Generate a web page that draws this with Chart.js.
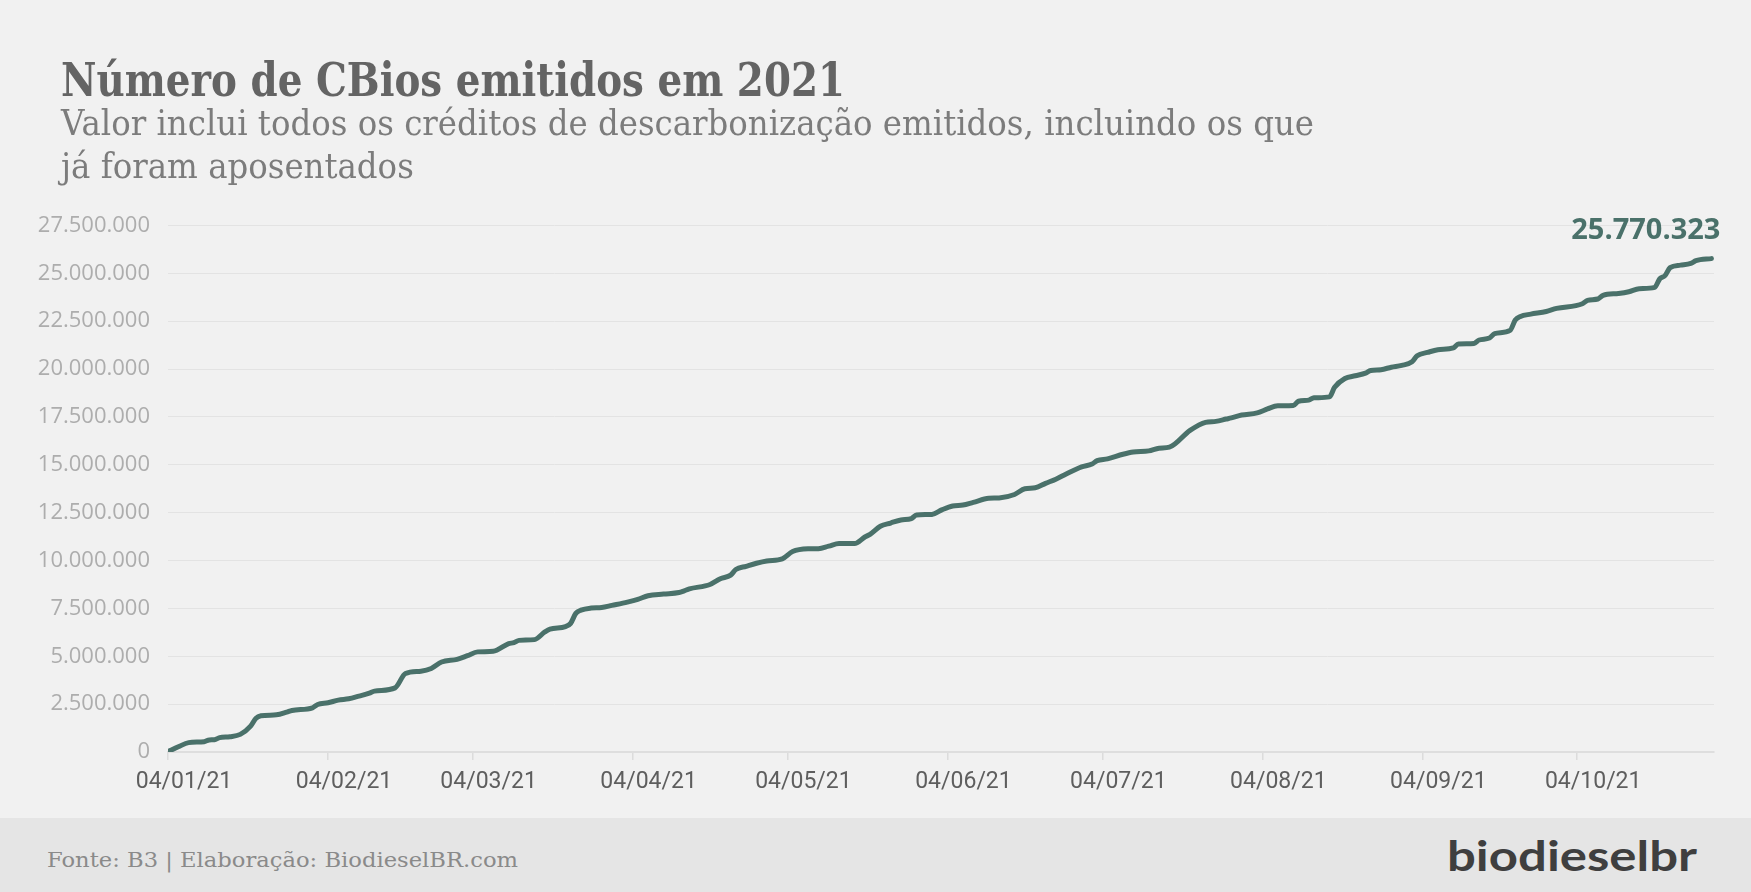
<!DOCTYPE html>
<html>
<head>
<meta charset="utf-8">
<script src="https://cdn.jsdelivr.net/npm/chart.js@4.4.1/dist/chart.umd.min.js"></script>
<style>
  html, body { margin: 0; padding: 0; }
  body { width: 1751px; height: 892px; background: #f1f1f1; position: relative; overflow: hidden; }
  #chart { position: absolute; left: 0; top: 0; }
  .txt { position: absolute; white-space: nowrap; line-height: 1; transform-origin: 0 0; }
  #title { font-family: "DejaVu Serif"; font-weight: bold; font-size: 47px; color: #646464; }
  .sub { font-family: "DejaVu Serif"; font-size: 36px; color: #7c7c7c; }
  #footer { position: absolute; left: 0; top: 818px; width: 1751px; height: 74px; background: #e5e5e5; }
  #source { font-family: "DejaVu Serif"; font-size: 21px; color: #8a8a8a; }
  #logo { font-family: "Lato"; font-weight: bold; font-size: 42px; color: #3f3f3f; }
</style>
</head>
<body>
<canvas id="chart" width="1751" height="892"></canvas>
<div id="footer"></div>
<div id="title" class="txt">Número de CBios emitidos em 2021</div>
<div id="sub1" class="txt sub">Valor inclui todos os créditos de descarbonização emitidos, incluindo os que</div>
<div id="sub2" class="txt sub">já foram aposentados</div>
<div id="source" class="txt">Fonte: B3 | Elaboração: BiodieselBR.com</div>
<div id="logo" class="txt">biodieselbr</div>
<script>
const dates = [
  '2021-01-04', '2021-01-06', '2021-01-08', '2021-01-11', '2021-01-12', '2021-01-13', '2021-01-14', '2021-01-16',
  '2021-01-18', '2021-01-20', '2021-01-21', '2021-01-22', '2021-01-25', '2021-01-27', '2021-01-28', '2021-02-01',
  '2021-02-02', '2021-02-04', '2021-02-06', '2021-02-08', '2021-02-10', '2021-02-12', '2021-02-13', '2021-02-17',
  '2021-02-19', '2021-02-22', '2021-02-24', '2021-02-26', '2021-03-01', '2021-03-03', '2021-03-05', '2021-03-08',
  '2021-03-11', '2021-03-12', '2021-03-13', '2021-03-16', '2021-03-18', '2021-03-19', '2021-03-22', '2021-03-23',
  '2021-03-24', '2021-03-25', '2021-03-27', '2021-03-29', '2021-03-31', '2021-04-03', '2021-04-05', '2021-04-07',
  '2021-04-10', '2021-04-13', '2021-04-14', '2021-04-15', '2021-04-19', '2021-04-21', '2021-04-23', '2021-04-24',
  '2021-04-26', '2021-04-28', '2021-04-30', '2021-05-03', '2021-05-05', '2021-05-08', '2021-05-10', '2021-05-12',
  '2021-05-14', '2021-05-17', '2021-05-19', '2021-05-20', '2021-05-22', '2021-05-24', '2021-05-26', '2021-05-28',
  '2021-05-29', '2021-06-01', '2021-06-03', '2021-06-05', '2021-06-07', '2021-06-09', '2021-06-12', '2021-06-14',
  '2021-06-17', '2021-06-19', '2021-06-21', '2021-06-23', '2021-06-25', '2021-06-27', '2021-06-30', '2021-07-02',
  '2021-07-03', '2021-07-05', '2021-07-08', '2021-07-10', '2021-07-13', '2021-07-15', '2021-07-17', '2021-07-21',
  '2021-07-24', '2021-07-26', '2021-07-28', '2021-07-29', '2021-07-31', '2021-08-03', '2021-08-05', '2021-08-07',
  '2021-08-10', '2021-08-11', '2021-08-13', '2021-08-14', '2021-08-17', '2021-08-18', '2021-08-20', '2021-08-22',
  '2021-08-24', '2021-08-25', '2021-08-27', '2021-08-29', '2021-08-31', '2021-09-02', '2021-09-03', '2021-09-05',
  '2021-09-07', '2021-09-10', '2021-09-11', '2021-09-14', '2021-09-15', '2021-09-17', '2021-09-18', '2021-09-21',
  '2021-09-22', '2021-09-23', '2021-09-25', '2021-09-28', '2021-09-30', '2021-10-05', '2021-10-06', '2021-10-08',
  '2021-10-09', '2021-10-12', '2021-10-14', '2021-10-16', '2021-10-19', '2021-10-20', '2021-10-21', '2021-10-22',
  '2021-10-24', '2021-10-26', '2021-10-27', '2021-10-30'
];

const cbios = [
  20000, 270000, 490000, 540000, 630000, 640000, 750000, 800000,
  920000, 1350000, 1750000, 1890000, 1940000, 2080000, 2170000, 2310000,
  2480000, 2570000, 2710000, 2780000, 2920000, 3070000, 3180000, 3350000,
  4100000, 4220000, 4360000, 4700000, 4840000, 5030000, 5230000, 5260000,
  5660000, 5710000, 5830000, 5870000, 6270000, 6420000, 6550000, 6720000,
  7240000, 7410000, 7520000, 7550000, 7660000, 7830000, 7970000, 8160000,
  8250000, 8330000, 8420000, 8520000, 8750000, 9050000, 9240000, 9530000,
  9700000, 9860000, 9980000, 10090000, 10470000, 10610000, 10620000, 10750000,
  10890000, 10890000, 11230000, 11370000, 11790000, 11960000, 12120000, 12190000,
  12380000, 12410000, 12660000, 12850000, 12900000, 13040000, 13250000, 13270000,
  13450000, 13750000, 13800000, 14030000, 14250000, 14520000, 14890000, 15040000,
  15220000, 15310000, 15550000, 15670000, 15730000, 15870000, 15920000, 16800000,
  17220000, 17270000, 17390000, 17450000, 17600000, 17710000, 17920000, 18080000,
  18100000, 18320000, 18380000, 18500000, 18550000, 19050000, 19510000, 19650000,
  19790000, 19930000, 19970000, 20100000, 20190000, 20380000, 20700000, 20870000,
  21010000, 21110000, 21310000, 21340000, 21520000, 21620000, 21850000, 22020000,
  22560000, 22750000, 22870000, 23010000, 23170000, 23410000, 23590000, 23660000,
  23850000, 23950000, 24040000, 24200000, 24270000, 24720000, 24880000, 25300000,
  25430000, 25520000, 25660000, 25770323
];

const xTickDates = ['2021-01-04', '2021-02-04', '2021-03-04', '2021-04-04', '2021-05-04',
                    '2021-06-04', '2021-07-04', '2021-08-04', '2021-09-04', '2021-10-04'];
const xTickLabels = ['04/01/21', '04/02/21', '04/03/21', '04/04/21', '04/05/21',
                     '04/06/21', '04/07/21', '04/08/21', '04/09/21', '04/10/21'];

const lineColor = '#4a716a';
const t0 = Date.parse(dates[0]);
const toDay = d => (Date.parse(d) - t0) / 86400000;
const fmt = v => Math.round(v).toString().replace(/\B(?=(\d{3})+(?!\d))/g, '.');

const points = dates.map((d, i) => ({ x: toDay(d), y: cbios[i] }));
const lastDay = toDay(dates[dates.length - 1]);

// etiqueta com o valor final acima do fim da linha
const endLabel = {
  id: 'endLabel',
  afterDatasetsDraw(chart) {
    const meta = chart.getDatasetMeta(0);
    const p = meta.data[meta.data.length - 1];
    const ctx = chart.ctx;
    ctx.save();
    ctx.font = 'bold 29px "Open Sans"';
    ctx.fillStyle = lineColor;
    ctx.textAlign = 'right';
    ctx.textBaseline = 'alphabetic';
    ctx.fillText(fmt(cbios[cbios.length - 1]), p.x + 9, p.y - 20);
    ctx.restore();
  }
};

new Chart(document.getElementById('chart').getContext('2d'), {
  type: 'line',
  data: {
    datasets: [{
      data: points,
      borderColor: lineColor,
      borderWidth: 5,
      borderCapStyle: 'round',
      borderJoinStyle: 'round',
      cubicInterpolationMode: 'monotone',
      pointRadius: 0,
      fill: false
    }]
  },
  options: {
    responsive: false,
    animation: false,
    devicePixelRatio: 1,
    layout: { padding: { top: 225.5, right: 37, bottom: 90, left: 0 } },
    plugins: { legend: { display: false }, tooltip: { enabled: false } },
    scales: {
      x: {
        type: 'linear',
        min: 0,
        max: lastDay + 0.5,
        afterBuildTicks: s => { s.ticks = xTickDates.map(d => ({ value: toDay(d) })); },
        afterFit: s => { s.height = 50; },
        grid: { drawOnChartArea: false, drawTicks: true, tickLength: 8, color: '#dcdcdc', lineWidth: 1.5 },
        border: { display: true, color: '#dedede', width: 2 },
        ticks: {
          autoSkip: false,
          maxRotation: 0,
          padding: 8,
          labelOffset: 16,
          color: '#5e5e5e',
          font: { family: 'Roboto', size: 23 },
          callback: (v, i) => xTickLabels[i]
        }
      },
      y: {
        min: 0,
        max: 27500000,
        afterFit: s => { s.width = 168; },
        grid: { drawTicks: false, color: '#e3e3e3', lineWidth: 1 },
        border: { display: false },
        ticks: {
          stepSize: 2500000,
          padding: 18,
          color: '#adadad',
          font: { family: 'Open Sans', size: 22 },
          callback: v => fmt(v)
        }
      }
    }
  },
  plugins: [endLabel]
});

// textos em HTML: posição pela linha de base e largura ajustada
function place(id, left, baseline, width, scale) {
  const el = document.getElementById(id);
  el.style.transform = 'none';
  let mark = el.querySelector('.bl');
  if (!mark) {
    mark = document.createElement('span');
    mark.className = 'bl';
    mark.style.cssText = 'display:inline-block;width:0;height:0;vertical-align:baseline';
    el.appendChild(mark);
  }
  el.style.left = left + 'px';
  el.style.top = '0px';
  const off = mark.getBoundingClientRect().top - el.getBoundingClientRect().top;
  el.style.top = (baseline - off) + 'px';
  const k = scale || width / el.getBoundingClientRect().width;
  el.style.transform = 'scaleX(' + k + ')';
  return k;
}

function layoutText() {
  place('title', 61, 95.5, 784);
  const k = place('sub1', 61, 135, 1253);
  place('sub2', 61, 178, 0, k);
  place('source', 47, 866.5, 471);
  place('logo', 1447, 871, 250);
}
layoutText();
document.fonts.ready.then(layoutText);
</script>
</body>
</html>
